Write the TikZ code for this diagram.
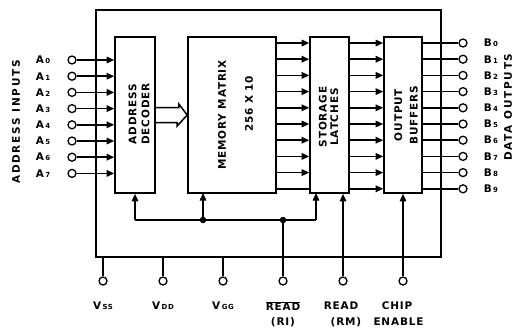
\documentclass[tikz,border=0pt]{standalone}
\usepackage{fontspec}
\setmainfont{DejaVu Sans}
\usetikzlibrary{arrows.meta}
\newcommand\subsc[1]{\hspace{1.5bp}{\fontsize{7}{7}\selectfont #1}}
\begin{document}
\begin{tikzpicture}[x=1bp,y=-1bp, line width=1.5bp,
  >={Triangle[length=7.5bp,width=6.5bp]},
  box/.style={draw, rectangle, inner sep=0pt, line width=1.6bp},
  frame/.style={draw, rectangle, inner sep=0pt, line width=1.7bp},
  pin/.style={draw, circle, minimum size=8bp, inner sep=0pt, line width=1.3bp, fill=white},
  lbl/.style={font=\bfseries\fontsize{10.5}{11}\selectfont, inner sep=0pt},
  plbl/.style={font=\bfseries\fontsize{10.5}{16}\selectfont\addfontfeature{LetterSpace=8}, inner sep=0pt, align=center},
  side/.style={font=\bfseries\fontsize{10.5}{12}\selectfont\addfontfeature{LetterSpace=16}, inner sep=0pt, rotate=90},
  boxtext/.style={font=\bfseries\fontsize{10.5}{13}\selectfont\addfontfeature{LetterSpace=8}, rotate=90, align=center, inner sep=0pt},
  dot/.style={circle, fill, minimum size=6.5bp, inner sep=0pt}]
\useasboundingbox (0,0) rectangle (516,331);

% chip outline
\node[frame, minimum width=345bp, minimum height=247bp] (chip) at (268.5,133.5) {};

% blocks
\node[box, minimum width=40bp, minimum height=156bp] (dec) at (135,115) {};
\node[box, minimum width=88bp, minimum height=156bp] (mem) at (232,115) {};
\node[box, minimum width=39bp, minimum height=156bp] (lat) at (329.5,115) {};
\node[box, minimum width=38bp, minimum height=156bp] (buf) at (403,115) {};

\node[boxtext] (dect) at (139,114) {ADDRESS\\DECODER};
\node[boxtext] (memt1) at (222,115) {MEMORY MATRIX};
\node[boxtext] (memt2) at (249,104) {256 X 10};
\node[boxtext, font=\bfseries\fontsize{10.5}{11.5}\selectfont\addfontfeature{LetterSpace=8}] (latt) at (328.5,117) {STORAGE\\LATCHES};
\node[boxtext, font=\bfseries\fontsize{10.5}{15.5}\selectfont\addfontfeature{LetterSpace=8}] (buft) at (406,115) {OUTPUT\\BUFFERS};

% side titles
\node[side] (ain) at (16,122) {ADDRESS\hspace{6bp}INPUTS};
\node[side] (dout) at (508,107) {DATA\hspace{6bp}OUTPUTS};

% address inputs
\foreach \i in {0,...,7} {
  \pgfmathsetmacro\yy{60+16.2*\i}
  \node[pin] (a\i) at (72,\yy) {};
  \node[lbl, anchor=west] (al\i) at (35,\yy) {A\subsc{\i}};
  \draw[->] (a\i) -- (a\i -| dec.west);
}

% data rows and outputs
\foreach \i in {0,...,9} {
  \pgfmathsetmacro\yy{43+16.2*\i}
  \coordinate (r\i) at (0,\yy);
  \node[pin] (b\i) at (463,\yy) {};
  \node[lbl, anchor=west] (bl\i) at (483,\yy) {B\subsc{\i}};
  \draw (buf.east |- r\i) -- (b\i);
  \draw[->] (lat.east |- r\i) -- (buf.west |- r\i);
}
\foreach \i in {0,...,8} {
  \draw[->] (mem.east |- r\i) -- (lat.west |- r\i);
}
\draw (mem.east |- r9) -- (lat.west |- r9);

% hollow arrow decoder -> matrix
\draw[line join=miter] ([yshift=7.5bp]dec.east) -- ++(23,0) -- ++(0,-3.5) -- (mem.west |- dec.east)
  -- ++(-10,11) -- ++(0,-3.5) -- ([yshift=-7.5bp]dec.east);

% control bus
\coordinate (bus) at (0,220);
\coordinate (memctl) at (203,193);
\coordinate (latctl) at (316,193);
\draw (dec.south |- bus) -- (latctl |- bus);
\draw[->] (dec.south |- bus) -- (dec.south);
\draw[->] (memctl |- bus) -- (memctl);
\draw[->] (latctl |- bus) -- (latctl);
\node[dot] (j1) at (memctl |- bus) {};

% bottom pins
\node[pin] (pss) at (103,281) {};
\node[pin] (pdd) at (163,281) {};
\node[pin] (pgg) at (223,281) {};
\node[pin] (pri) at (283,281) {};
\node[pin] (prm) at (343,281) {};
\node[pin] (pce) at (403,281) {};
\draw (pss) -- (pss |- chip.south);
\draw (pdd) -- (pdd |- chip.south);
\draw (pgg) -- (pgg |- chip.south);
\draw (pri) -- (pri |- bus);
\node[dot] (j2) at (pri |- bus) {};
\draw[->] (prm) -- (prm |- lat.south);
\draw[->] (pce) -- (buf.south);

% bottom labels
\node[plbl] (lss) at (103,306) {V\subsc{SS}};
\node[plbl] (ldd) at (163,306) {V\subsc{DD}};
\node[plbl] (lgg) at (223,306) {V\subsc{GG}};
\node[plbl] (lri) at (283,306) {$\overline{\mbox{READ}}$};
\node[plbl] (lri2) at (283,322) {(RI)};
\node[plbl] (lrm) at (341,306) {READ};
\node[plbl] (lrm2) at (346,322) {(RM)};
\node[plbl] (lce) at (397,306) {CHIP};
\node[plbl] (lce2) at (398.5,322) {ENABLE};
\end{tikzpicture}
\end{document}
